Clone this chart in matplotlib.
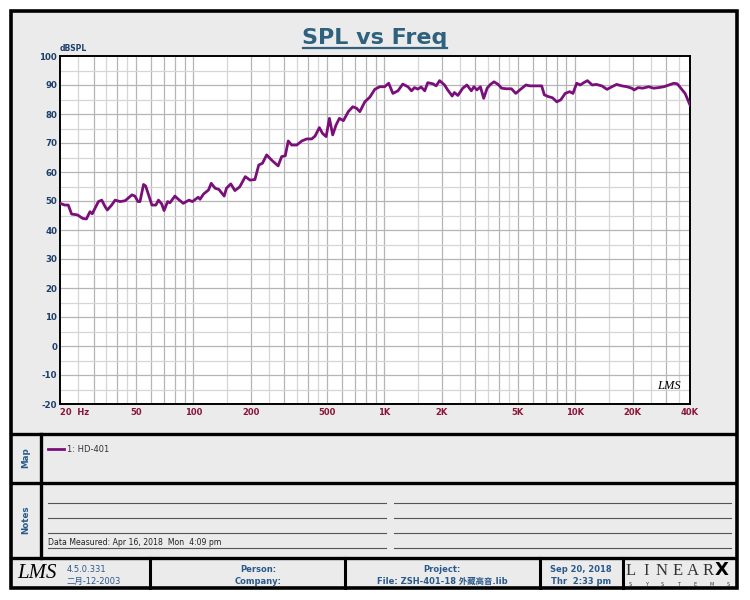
import matplotlib
matplotlib.use("Agg")
import matplotlib.pyplot as plt
from matplotlib.patches import Rectangle
from matplotlib.ticker import NullLocator

plt.rcParams["font.family"] = ["DejaVu Sans", "Noto Sans CJK SC"]
plt.rcParams["axes.unicode_minus"] = False

freq_hz = [20, 21.2, 22.1, 23.0, 24.7, 26.3, 27.5, 28.7, 29.5, 30.5, 31.8, 33.1,
           34.5, 35.4, 37.3, 38.9, 41.3, 43.9, 47.6, 49.4, 51.2, 52.5, 54.8, 56.2,
           58.2, 60.6, 63.6, 65.6, 68.2, 70.2, 73.3, 75.4, 80.0, 83.4, 88.5, 94.8,
           98.8, 106, 108.4, 113, 120, 124, 130, 136, 145, 149, 157, 165, 175,
           187, 198, 210, 220, 230, 242, 257, 278, 290, 303, 314, 327, 348, 370,
           392, 417, 434, 457, 475, 496, 516, 537, 559, 582, 611, 648, 684, 716,
           745, 791, 840, 892, 947, 1005, 1055, 1110, 1180, 1250, 1330, 1390,
           1440, 1500, 1560, 1630, 1690, 1800, 1870, 1950, 2070, 2150, 2270, 2330,
           2430, 2580, 2710, 2860, 2950, 3060, 3190, 3320, 3460, 3600, 3760, 3950,
           4120, 4370, 4640, 4890, 5130, 5520, 5790, 6680, 6900, 7250, 7610, 8020,
           8420, 8870, 9370, 9740, 10200, 10640, 11100, 11600, 12300, 12900, 13800,
           14700, 15600, 16500, 17560, 18700, 19800, 20400, 21400, 22600, 24300,
           25800, 27400, 29200, 31000, 32900, 34300, 35800, 37700, 40000]
spl_db = [49.2, 48.6, 48.6, 45.5, 45.2, 44.0, 43.8, 46.3, 45.6, 47.5, 49.8, 50.3,
          48.0, 46.9, 48.6, 50.3, 49.8, 50.1, 52.1, 51.7, 49.8, 49.8, 55.7, 55.2,
          52.1, 48.6, 48.6, 50.3, 49.0, 46.7, 49.8, 49.4, 51.7, 50.6, 49.2, 50.3,
          49.8, 51.3, 50.6, 52.4, 53.8, 56.1, 54.4, 54.0, 51.7, 54.4, 55.9, 53.6, 54.9,
          58.4, 57.2, 57.4, 62.4, 63.0, 65.9, 64.1, 62.1, 65.3, 65.6, 70.7, 69.3,
          69.3, 70.7, 71.4, 71.4, 72.4, 75.3, 73.3, 72.2, 78.5, 72.8, 76.2, 78.5,
          77.7, 80.8, 82.5, 82.0, 80.8, 84.2, 85.8, 88.5, 89.4, 89.4, 90.6, 87.1,
          88.0, 90.3, 89.4, 88.0, 89.1, 88.6, 89.3, 88.0, 90.8, 90.4, 89.7, 91.5,
          90.0, 88.3, 86.2, 87.4, 86.4, 88.9, 90.0, 88.0, 89.4, 88.3, 89.4, 85.4,
          88.9, 90.2, 91.1, 90.2, 88.9, 88.7, 88.7, 87.1, 88.3, 90.0, 89.7, 89.7,
          86.6, 86.0, 85.6, 84.2, 84.9, 87.1, 87.7, 87.1, 90.6, 90.0, 90.8, 91.5,
          90.0, 90.2, 89.7, 88.5, 89.4, 90.2, 89.7, 89.4, 88.9, 88.3, 89.1, 88.9,
          89.4, 88.9, 89.1, 89.4, 90.0, 90.6, 90.4, 88.9, 87.1, 83.1]

xtick_vals = [20, 50, 100, 200, 500, 1000, 2000, 5000, 10000, 20000, 40000]
xtick_labels = ["20  Hz", "50", "100", "200", "500", "1K", "2K", "5K", "10K", "20K", "40K"]
ytick_vals = list(range(-20, 101, 10))
trace_label = "1: HD-401"

BG = "#ebebeb"
TRACE = "#7a0f7a"
NAVY = "#1d3f6b"
BLUE = "#2a5a8c"
MAROON = "#8a1538"
TITLE = "#2f617e"

W, H = 750, 600
fig = plt.figure(figsize=(7.5, 6), dpi=100)
fig.patch.set_facecolor("white")

# page frame drawn in pixel units
bg = fig.add_axes([0, 0, 1, 1])
bg.set_xlim(0, W)
bg.set_ylim(H, 0)
bg.axis("off")
bg.add_patch(Rectangle((11, 11), 726, 577, facecolor=BG, edgecolor="black", lw=2.6))
for y in (434, 483, 558):
    bg.plot([11, 737], [y, y], color="black", lw=2.4, solid_capstyle="butt")
bg.plot([41, 41], [434, 558], color="black", lw=2.4)
for x in (150, 345, 540, 623):
    bg.plot([x, x], [558, 588], color="black", lw=2.2)

# title
bg.text(375, 44, "SPL vs Freq", ha="center", va="baseline", fontsize=16,
        fontweight="bold", color=TITLE)
bg.plot([303, 447], [47.5, 47.5], color=TITLE, lw=1.6)
bg.text(60, 51, "dBSPL", ha="left", va="baseline", fontsize=5.5,
        fontweight="bold", color=NAVY)

# map section
bg.text(26, 458, "Map", rotation=90, ha="center", va="center", fontsize=6.3,
        fontweight="bold", color=BLUE)
bg.plot([48, 64], [449, 449], color=TRACE, lw=2)
bg.text(67, 449, trace_label, ha="left", va="center", fontsize=6, color="#333333")

# notes section
bg.text(26, 520, "Notes", rotation=90, ha="center", va="center", fontsize=6.3,
        fontweight="bold", color=BLUE)
for y in (502.7, 517.5, 532.7, 547.5):
    bg.plot([48, 386], [y, y], color="#555555", lw=0.8)
    bg.plot([394, 731], [y, y], color="#555555", lw=0.8)
bg.text(48, 545, "Data Measured: Apr 16, 2018  Mon  4:09 pm", ha="left",
        va="baseline", fontsize=5.6, color="#222222")

# footer
bg.text(37, 573, "LMS", ha="center", va="center", fontsize=15, fontstyle="italic",
        family="Liberation Serif", color="black")
bg.text(67, 569, "4.5.0.331", ha="left", va="center", fontsize=6, color=BLUE)
bg.text(67, 581, "二月-12-2003", ha="left", va="center", fontsize=6, color=BLUE)
bg.text(258, 569, "Person:", ha="center", va="center", fontsize=6,
        fontweight="bold", color=BLUE)
bg.text(258, 581, "Company:", ha="center", va="center", fontsize=6,
        fontweight="bold", color=BLUE)
bg.text(442, 569, "Project:", ha="center", va="center", fontsize=6,
        fontweight="bold", color=BLUE)
bg.text(442, 581, "File: ZSH-401-18 外藏高音.lib", ha="center", va="center",
        fontsize=6, fontweight="bold", color=BLUE)
bg.text(581, 569, "Sep 20, 2018", ha="center", va="center", fontsize=6,
        fontweight="bold", color=BLUE)
bg.text(581, 581, "Thr  2:33 pm", ha="center", va="center", fontsize=6,
        fontweight="bold", color=BLUE)
for i, ch in enumerate("LINEAR"):
    bg.text(631 + i * 15.5, 575, ch, ha="center", va="baseline", fontsize=12,
            family="Liberation Serif", color="#333333")
bg.text(722, 575, "X", ha="center", va="baseline", fontsize=13, fontweight="bold",
        color="black")
for i, ch in enumerate("SYSTEMS"):
    bg.text(630 + i * 16.3, 584, ch, ha="center", va="center", fontsize=3.5,
            color="#333333")

# response plot
ax = fig.add_axes([60 / W, 1 - 404 / H, 630 / W, 348 / H])
ax.set_facecolor("white")
ax.set_xscale("log")
ax.set_xlim(20, 40000)
ax.set_ylim(-20, 100)

for e in range(1, 5):
    for m in range(1, 10):
        f = m * 10 ** e
        if 20 < f < 40000:
            ax.axvline(f, color="#b5b5b5", lw=0.9, zorder=1)
    for m in (1.5, 2.5, 3.5, 4.5):
        f = m * 10 ** e
        if 20 < f < 40000:
            ax.axvline(f, color="#d6d6d6", lw=0.9, zorder=1)
for y in range(-10, 100, 10):
    ax.axhline(y, color="#b5b5b5", lw=0.9, zorder=1)
for y in range(-15, 100, 10):
    ax.axhline(y, color="#d6d6d6", lw=0.9, zorder=1)

ax.plot(freq_hz, spl_db, color=TRACE, lw=2.0, zorder=3, solid_joinstyle="round")

ax.set_xticks(xtick_vals)
ax.set_xticklabels(xtick_labels)
ax.xaxis.set_minor_locator(NullLocator())
ax.set_yticks(ytick_vals)
ax.tick_params(axis="x", length=0, pad=3, labelsize=6, labelcolor=MAROON)
ax.tick_params(axis="y", length=0, pad=2, labelsize=6.2, labelcolor=NAVY)
for lab in ax.get_xticklabels() + ax.get_yticklabels():
    lab.set_fontweight("bold")
first = ax.get_xticklabels()[0]
first.set_horizontalalignment("left")
for s in ax.spines.values():
    s.set_color("black")
    s.set_linewidth(1.4)
ax.text(0.985, 0.035, "LMS", transform=ax.transAxes, ha="right", va="bottom",
        fontsize=9, fontstyle="italic", family="Liberation Serif")

fig.savefig("out.png", dpi=100, facecolor="white")
